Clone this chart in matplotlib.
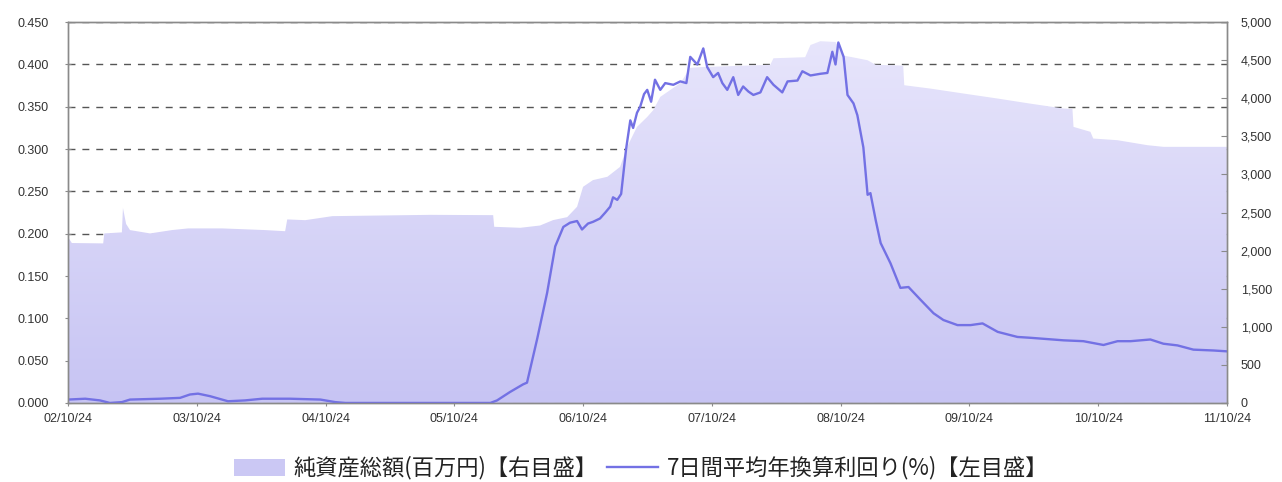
import numpy as np
import pandas as pd
import matplotlib
matplotlib.use('Agg')
import matplotlib.pyplot as plt
import matplotlib.dates as mdates
import matplotlib.ticker as ticker
from matplotlib.colors import LinearSegmentedColormap
from matplotlib.patches import Patch
from matplotlib.lines import Line2D

plt.rcParams['font.family'] = ['Liberation Sans', 'DejaVu Sans']

# 7日間平均年換算利回り(%) - left axis
yield_dates = ['2002-10-24', '2002-12-12', '2003-01-23', '2003-02-20', '2003-03-26', '2003-04-18',
               '2003-07-12', '2003-09-07', '2003-10-05', '2003-10-28', '2003-12-01', '2004-01-21',
               '2004-03-09', '2004-04-27', '2004-07-15', '2004-10-09', '2004-11-20', '2004-12-19',
               '2006-02-03', '2006-02-22', '2006-03-31', '2006-05-07', '2006-05-18', '2006-06-16',
               '2006-07-14', '2006-08-06', '2006-08-29', '2006-09-17', '2006-10-07', '2006-10-21',
               '2006-11-07', '2006-11-21', '2006-12-11', '2006-12-26', '2007-01-09', '2007-01-17',
               '2007-01-29', '2007-02-09', '2007-02-23', '2007-03-07', '2007-03-15', '2007-03-26',
               '2007-04-04', '2007-04-15', '2007-04-24', '2007-05-05', '2007-05-16', '2007-05-31',
               '2007-06-14', '2007-07-07', '2007-07-27', '2007-08-13', '2007-08-24', '2007-09-13',
               '2007-09-30', '2007-10-11', '2007-10-28', '2007-11-11', '2007-11-23', '2007-12-07',
               '2007-12-24', '2008-01-07', '2008-01-21', '2008-02-05', '2008-02-19', '2008-03-10',
               '2008-03-29', '2008-04-16', '2008-05-11', '2008-05-26', '2008-06-23', '2008-07-07',
               '2008-07-30', '2008-08-27', '2008-09-16', '2008-09-30', '2008-10-09', '2008-10-17',
               '2008-11-01', '2008-11-12', '2008-11-29', '2008-12-10', '2008-12-27', '2009-01-08',
               '2009-01-16', '2009-01-31', '2009-02-14', '2009-03-14', '2009-04-11', '2009-05-04',
               '2009-06-07', '2009-07-14', '2009-08-11', '2009-09-20', '2009-10-27', '2009-11-30',
               '2010-01-12', '2010-03-09', '2010-04-15', '2010-07-18', '2010-09-12', '2010-11-08',
               '2010-12-18', '2011-01-24', '2011-03-21', '2011-04-27', '2011-06-06', '2011-07-21',
               '2011-09-16', '2011-10-24']
yield_values = [0.004, 0.005, 0.003, 0.000, 0.001, 0.004, 0.005, 0.006, 0.010, 0.011,
                0.008, 0.002, 0.003, 0.005, 0.005, 0.004, 0.001, 0.000, 0.000, 0.003,
                0.013, 0.022, 0.024, 0.076, 0.130, 0.185, 0.208, 0.213, 0.215, 0.205,
                0.212, 0.214, 0.218, 0.225, 0.232, 0.243, 0.240, 0.247, 0.300, 0.334,
                0.325, 0.343, 0.350, 0.365, 0.370, 0.356, 0.382, 0.370, 0.378, 0.376,
                0.380, 0.378, 0.409, 0.400, 0.419, 0.397, 0.385, 0.390, 0.378, 0.370,
                0.385, 0.364, 0.374, 0.368, 0.364, 0.367, 0.385, 0.376, 0.367, 0.380,
                0.381, 0.392, 0.387, 0.389, 0.390, 0.415, 0.400, 0.426, 0.409, 0.364,
                0.354, 0.340, 0.302, 0.246, 0.248, 0.216, 0.189, 0.165, 0.136, 0.137,
                0.122, 0.106, 0.098, 0.092, 0.092, 0.094, 0.084, 0.078, 0.077, 0.074,
                0.073, 0.0685, 0.073, 0.073, 0.075, 0.070, 0.068, 0.063, 0.062, 0.061]

# 純資産総額(百万円) - right axis
nav_dates = ['2002-10-24', '2002-11-04', '2003-02-01', '2003-02-04', '2003-03-26', '2003-03-29',
             '2003-04-07', '2003-04-18', '2003-06-14', '2003-08-15', '2003-09-30', '2004-01-04',
             '2004-05-05', '2004-07-01', '2004-07-07', '2004-08-27', '2004-11-12', '2005-08-17',
             '2006-02-11', '2006-02-14', '2006-04-29', '2006-06-24', '2006-07-31', '2006-09-09',
             '2006-10-07', '2006-10-24', '2006-11-21', '2007-01-01', '2007-02-06', '2007-02-26',
             '2007-03-26', '2007-04-24', '2007-05-11', '2007-05-31', '2007-07-27', '2007-08-24',
             '2007-09-21', '2008-04-07', '2008-04-16', '2008-07-15', '2008-07-30', '2008-08-27',
             '2008-10-09', '2008-11-01', '2008-11-20', '2009-01-08', '2009-01-31', '2009-04-19',
             '2009-04-22', '2009-07-05', '2009-10-07', '2010-01-12', '2010-04-15', '2010-07-18',
             '2010-08-12', '2010-08-15', '2010-10-02', '2010-10-10', '2010-12-18', '2011-03-12',
             '2011-04-27', '2011-10-24']
nav_values = [2180, 2100, 2095, 2226, 2240, 2560, 2350, 2270, 2226, 2270, 2292, 2292,
              2270, 2255, 2410, 2400, 2453, 2470, 2466, 2313, 2300, 2330, 2401, 2440,
              2576, 2838, 2926, 2970, 3100, 3363, 3625, 3756, 3844, 4019, 4200, 4400,
              4410, 4440, 4526, 4540, 4700, 4750, 4740, 4560, 4545, 4500, 4440, 4430,
              4172, 4128, 4063, 3997, 3930, 3866, 3860, 3625, 3560, 3472, 3450, 3385,
              3363, 3363]

yield_label = '7日間平均年換算利回り(%)【左目盛】'
nav_label = '純資産総額(百万円)【右目盛】'

yield_dt = pd.to_datetime(yield_dates)
nav_dt = pd.to_datetime(nav_dates)
nav_arr = np.array(nav_values, dtype=float)

line_color = '#7371e4'
spine_color = '#8a8a8a'
text_color = '#333333'

fig = plt.figure(figsize=(12.82, 4.82), dpi=100)
ax = fig.add_axes([0.053, 0.164, 0.904, 0.790])
ax2 = ax.twinx()

left_max, right_max = 0.45, 5000
scale = left_max / right_max

# grid below the area
ax.set_axisbelow(True)
ax.yaxis.grid(True, color='#555555', lw=1.0, ls=(0, (5, 5)))

# net assets area, drawn on the left axis scaled to the right axis range
poly = ax.fill_between(nav_dt, nav_arr * scale, 0, color='none', lw=0, zorder=1)
x0, x1 = mdates.date2num(nav_dt[0]), mdates.date2num(nav_dt[-1])
cmap = LinearSegmentedColormap.from_list('navgrad', ['#c7c4f3', '#e9e7fc'])
grad = np.linspace(0, 1, 256).reshape(-1, 1)
im = ax.imshow(grad, extent=[x0, x1, 0, left_max], origin='lower', aspect='auto',
               cmap=cmap, zorder=1, interpolation='bilinear')
im.set_clip_path(poly.get_paths()[0], transform=ax.transData)

ax.plot(yield_dt, yield_values, color=line_color, lw=1.7, zorder=3)

ax.set_xlim(pd.Timestamp('2002-10-24'), pd.Timestamp('2011-10-24'))
ax.set_ylim(0, left_max)
ax2.set_ylim(0, right_max)

ax.xaxis.set_major_locator(mdates.YearLocator(1, month=10, day=24))
ax.xaxis.set_major_formatter(mdates.DateFormatter('%y/%m/%d'))
ax.yaxis.set_major_locator(ticker.MultipleLocator(0.05))
ax.yaxis.set_major_formatter(ticker.FormatStrFormatter('%.3f'))
ax2.yaxis.set_major_locator(ticker.MultipleLocator(500))
ax2.yaxis.set_major_formatter(ticker.FuncFormatter(lambda v, p: f'{v:,.0f}'))

for a in (ax, ax2):
    for s in a.spines.values():
        s.set_color(spine_color)
        s.set_linewidth(1.0)
ax.tick_params(axis='y', direction='inout', length=4, color=spine_color,
               labelsize=9, labelcolor=text_color, pad=12)
ax.tick_params(axis='x', direction='inout', length=5, color=spine_color,
               labelsize=9, labelcolor=text_color, pad=5)
ax2.tick_params(axis='y', direction='in', length=4, color=spine_color,
                labelsize=9, labelcolor=text_color, pad=10)

handles = [Patch(facecolor='#cbc8f4', edgecolor='none'),
           Line2D([0], [0], color=line_color, lw=1.7)]
fig.legend(handles, [nav_label, yield_label], loc='center', bbox_to_anchor=(0.5, 0.029),
           ncol=2, frameon=False, handlelength=2.3, handleheight=0.8, columnspacing=0.4,
           handletextpad=0.4, labelcolor='#222222',
           prop={'family': ['Noto Sans CJK JP', 'DejaVu Sans'], 'size': 16})

fig.savefig('out.png', dpi=100)
